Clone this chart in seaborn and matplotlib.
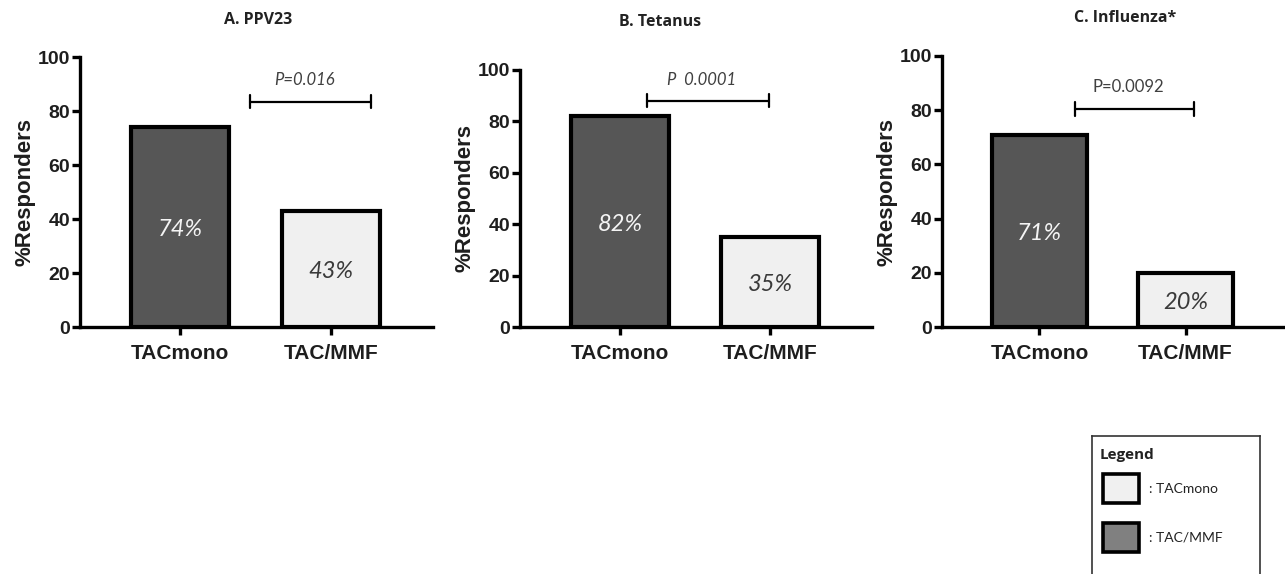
import numpy as np
import pandas as pd
import matplotlib
matplotlib.use("Agg")
import matplotlib.pyplot as plt
from matplotlib.patches import Rectangle
import seaborn as sns

########################################################################
# Dados
########################################################################
grupos = ["TACmono", "TAC/MMF"]
titulos = ["A. PPV23", "B. Tetanus", "C. Influenza*"]
ppv23 = [74, 43]
tetanus = [82, 35]
influenza = [71, 20]
rotulos_p = ["P=0.016", "P  0.0001", "P=0.0092"]
p_italico = [True, True, False]
# posicao do colchete (x inicial, x final, altura)
colchete_x0 = [0.46, 0.18, 0.24]
colchete_x1 = [1.27, 0.99, 1.06]
colchete_y = [83.5, 88, 80.5]
legenda_nomes = [": TACmono", ": TAC/MMF"]

########################################################################
# Estilo
########################################################################
sns.set_style("ticks")
plt.rcParams["font.family"] = ["Liberation Sans", "DejaVu Sans"]

cor_escura = "#565656"
cor_clara = "#f0f0f0"
cor_texto = "#1e1e1e"
fonte_fina = ["Lato", "DejaVu Sans"]
fonte_titulo = ["Open Sans", "DejaVu Sans"]

fig = plt.figure(figsize=(12.85, 5.74), dpi=100)

# posicoes dos paineis (fracao da figura)
posicoes = [
    [80 / 1285, 1 - 327 / 574, (433 - 80) / 1285, 270 / 574],
    [520 / 1285, 1 - 327 / 574, (872 - 520) / 1285, 257 / 574],
    [942 / 1285, 1 - 327 / 574, (1285 - 942) / 1285, 271 / 574],
]
titulo_y = [20, 22, 18]
titulo_x = [258, 660, 1125]

series = [ppv23, tetanus, influenza]

for i, valores in enumerate(series):
    ax = fig.add_axes(posicoes[i])
    df = pd.DataFrame({"grupo": grupos, "valor": valores})
    sns.barplot(data=df, x="grupo", y="valor", hue="grupo",
                palette=[cor_escura, cor_clara], edgecolor="black",
                linewidth=3, width=0.65, legend=False, ax=ax)
    ax.set_ylim(0, 100)
    ax.set_xlim(-0.667, 1.68)
    ax.set_yticks([0, 20, 40, 60, 80, 100])
    ax.set_xlabel("")
    ax.set_ylabel("%Responders", fontsize=16, fontweight="bold",
                  color=cor_texto, labelpad=2)
    sns.despine(ax=ax)
    for lado in ["left", "bottom"]:
        ax.spines[lado].set_linewidth(2.4)
        ax.spines[lado].set_color("black")
    ax.tick_params(axis="both", width=2.4, length=6, color="black")
    ax.tick_params(axis="y", labelsize=14, pad=1, labelcolor=cor_texto)
    ax.tick_params(axis="x", labelsize=15, pad=6, labelcolor=cor_texto)
    for lab in ax.get_xticklabels() + ax.get_yticklabels():
        lab.set_fontweight("bold")

    # rotulos dentro das barras
    for j, v in enumerate(valores):
        cor = "#f4f4f4" if j == 0 else "#3a3a3a"
        ax.text(j, v / 2 - 1, f"{v}%", ha="center", va="center",
                fontsize=17, style="italic", color=cor,
                family=fonte_fina)

    # colchete do valor de p
    x0, x1, yc = colchete_x0[i], colchete_x1[i], colchete_y[i]
    ax.plot([x0, x1], [yc, yc], color="black", lw=1.6, clip_on=False)
    ax.plot([x0, x0], [yc - 2.5, yc + 2.5], color="black", lw=1.6, clip_on=False)
    ax.plot([x1, x1], [yc - 2.5, yc + 2.5], color="black", lw=1.6, clip_on=False)
    ax.text((x0 + x1) / 2 - 0.04, yc + 8, rotulos_p[i], ha="center",
            va="center", fontsize=12, color="#404040",
            style="italic" if p_italico[i] else "normal",
            family=fonte_fina)

    fig.text(titulo_x[i] / 1285, 1 - titulo_y[i] / 574, titulos[i],
             ha="center", va="center", fontsize=11.5, fontweight="bold",
             color="#222222", family=fonte_titulo)

########################################################################
# Caixa de legenda
########################################################################
axl = fig.add_axes([1092 / 1285, 0, (1260 - 1092) / 1285, (574 - 436) / 574])
axl.set_xlim(0, 168)
axl.set_ylim(138, 0)
axl.set_xticks([])
axl.set_yticks([])
for lado in ["left", "right", "top"]:
    axl.spines[lado].set_visible(True)
    axl.spines[lado].set_linewidth(1.2)
    axl.spines[lado].set_color("#333333")
axl.spines["bottom"].set_visible(False)
axl.set_facecolor("white")
axl.text(8, 19, "Legend", fontsize=11, fontweight="bold", va="center",
         ha="left", color="#222222", family=fonte_titulo)
cores_leg = [cor_clara, "#808080"]
for k, nome in enumerate(legenda_nomes):
    y0 = 38 + k * 49
    axl.add_patch(Rectangle((11, y0), 36, 29, facecolor=cores_leg[k],
                            edgecolor="black", linewidth=2.6))
    axl.text(57, y0 + 15, nome, fontsize=10, va="center", ha="left",
             color="#222222", family=fonte_fina)

fig.savefig("out.png", dpi=100)
